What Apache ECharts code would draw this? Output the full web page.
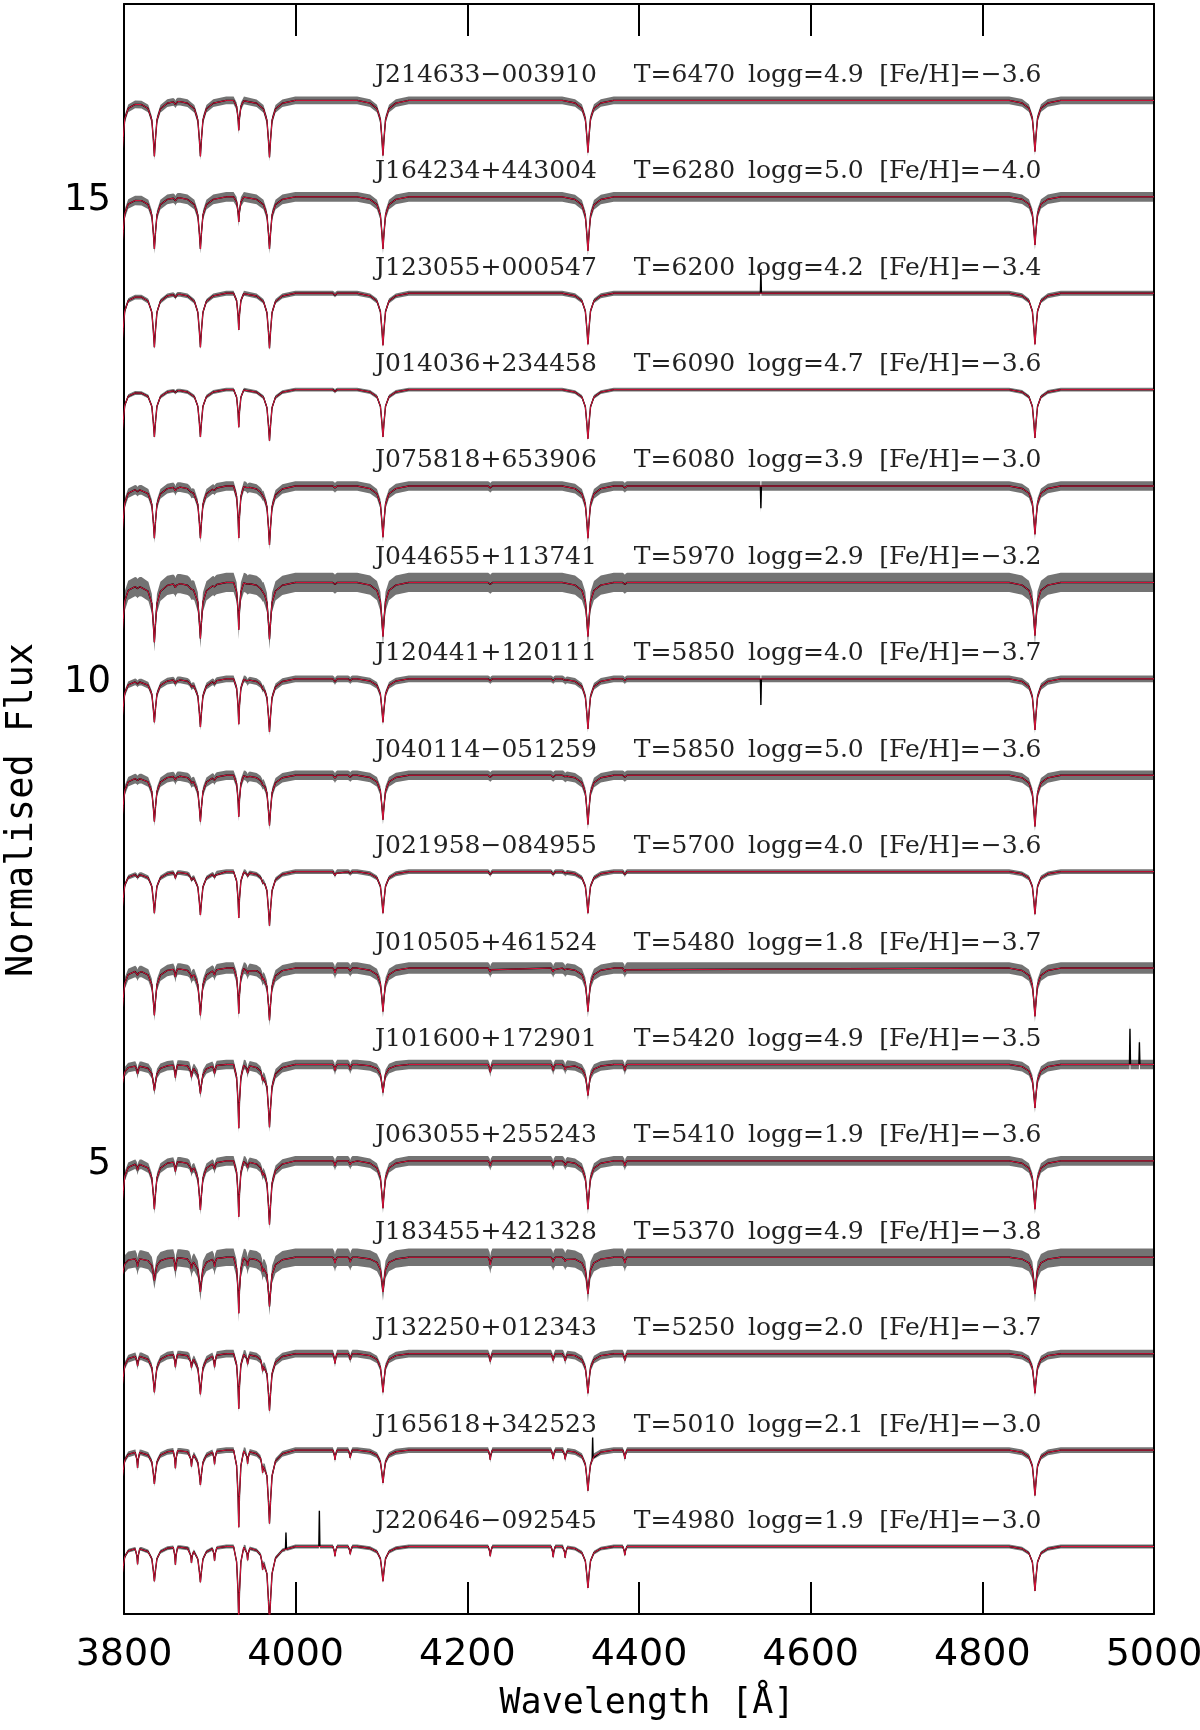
<!DOCTYPE html>
<html><head><meta charset="utf-8">
<script src="https://cdn.jsdelivr.net/npm/echarts@6/dist/echarts.min.js"></script>
<style>html,body{margin:0;padding:0;background:#fff}#c{width:1200px;height:1730px}</style>
</head><body><div id="c"></div>
<script>
// ---------------- data ----------------
const starIds = ['J214633−003910','J164234+443004','J123055+000547','J014036+234458',
  'J075818+653906','J044655+113741','J120441+120111','J040114−051259',
  'J021958−084955','J010505+461524','J101600+172901','J063055+255243',
  'J183455+421328','J132250+012343','J165618+342523','J220646−092545'];
const teff = [6470,6280,6200,6090,6080,5970,5850,5850,5700,5480,5420,5410,5370,5250,5010,4980];
const logg = ['4.9','5.0','4.2','4.7','3.9','2.9','4.0','5.0','4.0','1.8','4.9','1.9','4.9','2.0','2.1','1.9'];
const feh  = ['−3.6','−4.0','−3.4','−3.6','−3.0','−3.2','−3.7','−3.6','−3.6','−3.7','−3.5','−3.6','−3.8','−3.7','−3.0','−3.0'];
const continuum = [16,15,14,13,12,11,10,9,8,7,6,5,4,3,2,1];
const yTickValues = [5,10,15];

// strong lines: H10, H9, H8, Ca II K, Ca II H+He, Hd, Hg, Hb (Angstrom)
const lineCenters = [3797.9, 3835.4, 3889.0, 3933.7, 3969.5, 4101.7, 4340.5, 4861.3];
const lineKinds   = ['B','B','B','K','B','B','B','B'];
// core depth below continuum (flux units), one row per star
const lineDepths = [
  [0.55,0.58,0.58,0.31,0.59,0.57,0.54,0.53],
  [0.50,0.54,0.54,0.26,0.54,0.54,0.56,0.50],
  [0.52,0.56,0.56,0.38,0.57,0.54,0.53,0.53],
  [0.46,0.49,0.49,0.39,0.53,0.49,0.51,0.50],
  [0.50,0.54,0.54,0.54,0.61,0.53,0.54,0.50],
  [0.55,0.62,0.58,0.49,0.59,0.56,0.56,0.55],
  [0.42,0.45,0.50,0.47,0.55,0.45,0.52,0.53],
  [0.45,0.48,0.48,0.43,0.52,0.46,0.51,0.53],
  [0.40,0.43,0.45,0.48,0.56,0.43,0.43,0.44],
  [0.45,0.49,0.49,0.47,0.54,0.45,0.45,0.50],
  [0.22,0.27,0.30,0.66,0.65,0.29,0.32,0.45],
  [0.45,0.50,0.51,0.58,0.66,0.49,0.50,0.50],
  [0.20,0.24,0.36,0.58,0.51,0.36,0.38,0.38],
  [0.35,0.40,0.42,0.57,0.59,0.40,0.41,0.41],
  [0.30,0.35,0.36,0.80,0.76,0.34,0.42,0.47],
  [0.30,0.36,0.37,0.80,0.80,0.36,0.43,0.46]
];
// weaker metal lines / G band
const metalCenters = [3815.8,3859.9,3878.6,3905.5,3944.0,3961.5,4045.8,4063.6,4226.7,4300.0,4314.0,4383.5];
const metalDepths = [
  [0,0.03,0,0,0,0,0,0,0,0,0,0],
  [0,0.03,0,0,0,0,0,0,0,0,0,0],
  [0,0.03,0,0,0,0,0.02,0,0,0,0,0],
  [0,0.02,0,0,0,0,0.02,0,0,0,0,0],
  [0.02,0.04,0.02,0.02,0.02,0.02,0.02,0,0.02,0,0,0.02],
  [0.02,0.04,0.02,0.02,0.02,0.02,0.02,0,0.02,0,0,0.02],
  [0.02,0.04,0.03,0.03,0.03,0.03,0.03,0.02,0.02,0.02,0.02,0.02],
  [0.02,0.04,0.03,0.03,0.03,0.03,0.03,0.02,0.02,0.02,0.02,0.02],
  [0.03,0.06,0.04,0.04,0.04,0.04,0.04,0.02,0.03,0.03,0.02,0.03],
  [0.04,0.08,0.05,0.05,0.05,0.05,0.05,0.03,0.04,0.04,0.03,0.04],
  [0.08,0.13,0.10,0.08,0.08,0.08,0.06,0.05,0.08,0.06,0.05,0.06],
  [0.06,0.10,0.06,0.06,0.06,0.06,0.05,0.04,0.05,0.05,0.04,0.05],
  [0.08,0.13,0.08,0.08,0.08,0.08,0.06,0.05,0.08,0.05,0.04,0.06],
  [0.10,0.13,0.10,0.12,0.10,0.10,0.10,0.06,0.08,0.07,0.07,0.07],
  [0.16,0.18,0.13,0.13,0.13,0.13,0.10,0.08,0.10,0.09,0.09,0.09],
  [0.16,0.18,0.13,0.13,0.13,0.13,0.10,0.08,0.10,0.11,0.11,0.09]
];
// visible scatter (half amplitude, flux units) of each observed spectrum
const noiseLevel = [0.04,0.05,0.025,0.02,0.05,0.10,0.035,0.05,0.025,0.06,0.05,0.05,0.09,0.04,0.03,0.02];
// spikes in the observed spectra: [wavelength, height above continuum]
const spikes = [
  [],[],[[4542,0.25]],[],[[4542,-0.23]],[],[[4542,-0.27]],[],[],[],
  [[4972,0.37],[4983,0.23]],[],[],[],[[4346,0.13]],[[3988.7,0.145],[4027.6,0.37]]
];
// line-profile shapes (offset from centre in Angstrom, fraction of core depth)
const balmerOffsets = [0,1.2,3,7,15,30];  const balmerFrac = [1,0.7,0.35,0.15,0.05,0];
const caKOffsets    = [0,0.8,2.5,6];      const caKFrac    = [1,0.6,0.2,0];
const metalOffsets  = [0,0.8,2.5];        const metalFrac  = [1,0.45,0];

// ---------------- build spectra ----------------
function shape(offs, fr, d) {
  const a = Math.abs(d);
  if (a >= offs[offs.length-1]) return 0;
  for (let k = 1; k < offs.length; k++) {
    if (a <= offs[k]) {
      const t = (a - offs[k-1]) / (offs[k] - offs[k-1]);
      return fr[k-1] + (fr[k] - fr[k-1]) * t;
    }
  }
  return 0;
}
function starLines(i) {
  const L = [];
  lineCenters.forEach((c, j) => {
    const d = lineDepths[i][j];
    if (d > 0) L.push(lineKinds[j] === 'K' ? {c, d, o: caKOffsets, f: caKFrac} : {c, d, o: balmerOffsets, f: balmerFrac});
  });
  metalCenters.forEach((c, j) => {
    const d = metalDepths[i][j];
    if (d > 0) L.push({c, d, o: metalOffsets, f: metalFrac});
  });
  return L;
}
function modelAt(i, L, lam) {
  let v = continuum[i];
  L.forEach(l => { v -= l.d * shape(l.o, l.f, lam - l.c); });
  return v;
}
const spectra = starIds.map((id, i) => {
  const L = starLines(i);
  const nodes = new Set([3790, 5000]);
  L.forEach(l => l.o.forEach(o => { nodes.add(+(l.c - o).toFixed(2)); nodes.add(+(l.c + o).toFixed(2)); }));
  const lams = Array.from(nodes).sort((a, b) => a - b);
  const model = lams.map(x => [x, modelAt(i, L, x)]);
  const obs = model.slice();
  spikes[i].forEach(([lam, h]) => {
    obs.push([lam - 0.6, modelAt(i, L, lam - 0.6)]);
    obs.push([lam, continuum[i] + h]);
    obs.push([lam + 0.6, modelAt(i, L, lam + 0.6)]);
  });
  obs.sort((a, b) => a[0] - b[0]);
  return {model, obs};
});

// ---------------- chart ----------------
const RED = '#dc143c';
const series = [];
spectra.forEach((s, i) => {
  const nz = noiseLevel[i];
  series.push({
    type: 'custom', z: 1, silent: true, data: [[4400, continuum[i]]],
    renderItem: (params, api) => {
      const pts = [];
      s.obs.forEach(p => pts.push(api.coord([p[0], p[1] + nz])));
      for (let k = s.obs.length - 1; k >= 0; k--) pts.push(api.coord([s.obs[k][0], s.obs[k][1] - nz]));
      const cs = params.coordSys;
      return {type: 'polygon', shape: {points: pts}, style: {fill: 'rgba(0,0,0,0.55)'},
        clipPath: {type: 'rect', shape: {x: cs.x, y: cs.y, width: cs.width, height: cs.height}}};
    }
  });
  series.push({type: 'line', z: 2, data: s.obs, showSymbol: false, silent: true, animation: false,
    lineStyle: {color: '#000', width: 1.4}, clip: true});
  series.push({type: 'line', z: 3, data: s.model, showSymbol: false, silent: true, animation: false,
    lineStyle: {color: RED, width: 1.0}, clip: true});
});

// star labels
const labelItems = [];
starIds.forEach((id, i) => {
  const y = continuum[i] + 0.26;
  labelItems.push([4092.5, y, id]);
  labelItems.push([4394, y, 'T=' + teff[i]]);
  labelItems.push([4527, y, 'logg=' + logg[i]]);
  labelItems.push([4680, y, '[Fe/H]=' + feh[i]]);
});
series.push({
  type: 'custom', z: 5, silent: true, data: labelItems.map(d => [d[0], d[1]]),
  renderItem: (params, api) => {
    const p = api.coord([api.value(0), api.value(1)]);
    return {type: 'text', x: p[0], y: p[1], style: {text: labelItems[params.dataIndex][2],
      font: '25px "DejaVu Serif"', fill: '#222', textAlign: 'left', textVerticalAlign: 'middle'}};
  }
});
// y tick labels
series.push({
  type: 'custom', z: 5, silent: true, data: yTickValues.map(v => [3800, v]),
  renderItem: (params, api) => {
    const p = api.coord([api.value(0), api.value(1)]);
    return {type: 'text', x: p[0] - 13, y: p[1] + 4, style: {text: String(yTickValues[params.dataIndex]),
      font: '37px "DejaVu Sans"', fill: '#000', textAlign: 'right', textVerticalAlign: 'middle'}};
  }
});

const axisLine = {show: true, onZero: false, lineStyle: {color: '#000', width: 2}};
const chart = echarts.init(document.getElementById('c'), null, {renderer: 'canvas'});
chart.setOption({
  animation: false,
  backgroundColor: '#fff',
  grid: {left: 124, top: 4, width: 1030, height: 1610, outerBoundsMode: 'none', containLabel: false},
  xAxis: [
    {type: 'value', min: 3800, max: 5000, interval: 200, position: 'bottom', axisLine,
     axisTick: {show: true, inside: true, length: 32, lineStyle: {color: '#000', width: 2}},
     axisLabel: {show: true, fontSize: 38, fontFamily: 'DejaVu Sans', color: '#000', margin: 22,
       formatter: v => String(v)},
     splitLine: {show: false}},
    {type: 'value', min: 3800, max: 5000, interval: 200, position: 'top', axisLine,
     axisTick: {show: true, inside: true, length: 32, lineStyle: {color: '#000', width: 2}},
     axisLabel: {show: false}, splitLine: {show: false}}
  ],
  yAxis: [
    {type: 'value', min: 0.3, max: 17, position: 'left', axisLine, axisTick: {show: false},
     axisLabel: {show: false}, splitLine: {show: false}},
    {type: 'value', min: 0.3, max: 17, position: 'right', axisLine, axisTick: {show: false},
     axisLabel: {show: false}, splitLine: {show: false}}
  ],
  graphic: [
    {type: 'text', x: 22, y: 810, rotation: Math.PI / 2,
     style: {text: 'Normalised Flux', font: '37px "DejaVu Sans Mono"', fill: '#000', textAlign: 'center', textVerticalAlign: 'middle'}},
    {type: 'text', x: 647, y: 1704,
     style: {text: 'Wavelength [Å]', font: '35px "DejaVu Sans Mono"', fill: '#000', textAlign: 'center', textVerticalAlign: 'middle'}}
  ],
  series
});
</script></body></html>
